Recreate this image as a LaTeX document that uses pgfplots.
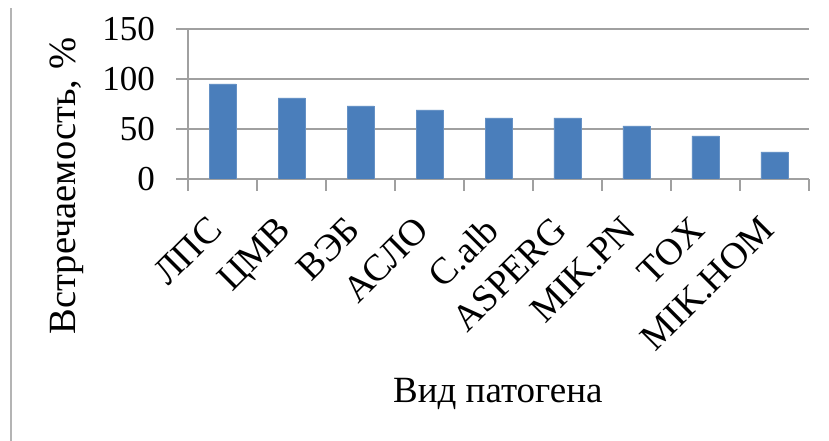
\documentclass[border=0pt]{standalone}
\usepackage{pgfplots}
\pgfplotsset{compat=1.18}
\usepackage{fontspec}
\setmainfont{Liberation Serif}

\definecolor{barblue}{HTML}{4A7EBB}
\definecolor{axisgray}{HTML}{A0A0A0}
\definecolor{edgegray}{HTML}{B4B4B4}

\begin{document}
\begin{tikzpicture}[x=1pt,y=1pt]
  \path[use as bounding box] (0,0) rectangle (829,441);
  % thin rule at the left edge
  \draw[edgegray, line width=1.5pt] (11,0) -- (11,433);
  \begin{axis}[
    at={(188pt,262pt)}, anchor=south west,
    scale only axis,
    width=621pt, height=150pt,
    xmin=-0.5, xmax=8.5,
    ymin=0, ymax=150,
    enlargelimits=false,
    axis x line*=bottom,
    axis y line*=left,
    axis line style={axisgray, line width=1.5pt},
    ybar, bar width=27pt,
    xtick={0,...,8},
    xticklabels={ЛПС,ЦМВ,ВЭБ,АСЛО,C.alb,ASPERG,MIK.PN,TOX,MIK.HOM},
    major x tick style={draw=none},
    minor xtick={-0.5,0.5,...,8.5},
    minor x tick style={axisgray, line width=1.5pt},
    minor tick length=12pt,
    ytick={0,50,100,150},
    major tick length=12pt,
    tick align=outside,
    y tick style={axisgray, line width=1.5pt},
    ymajorgrids,
    grid style={axisgray, line width=1.5pt},
    /pgf/number format/assume math mode=true,
    yticklabel style={font=\fontsize{35}{40}\selectfont, inner sep=0pt, xshift=-21pt},
    xticklabel style={font=\fontsize{37.5}{42}\selectfont, rotate=45, anchor=north east,
      inner sep=0pt, xshift=-28pt, yshift=-5pt},
    xlabel={Вид патогена},
    xlabel style={font=\fontsize{37}{42}\selectfont,
      at={(axis description cs:0.499,-1.487)}, anchor=base, inner sep=0pt},
    ylabel={Встречаемость, \%},
    ylabel style={font=\fontsize{38.5}{44}\selectfont,
      at={(axis description cs:-0.195,-0.047)}, anchor=center, inner sep=0pt},
  ]
    \addplot[fill=barblue, draw=barblue!85!white, line width=0.6pt]
      coordinates {(0,95) (1,81) (2,73) (3,69) (4,61) (5,61) (6,53) (7,43) (8,27)};
  \end{axis}
\end{tikzpicture}
\end{document}
